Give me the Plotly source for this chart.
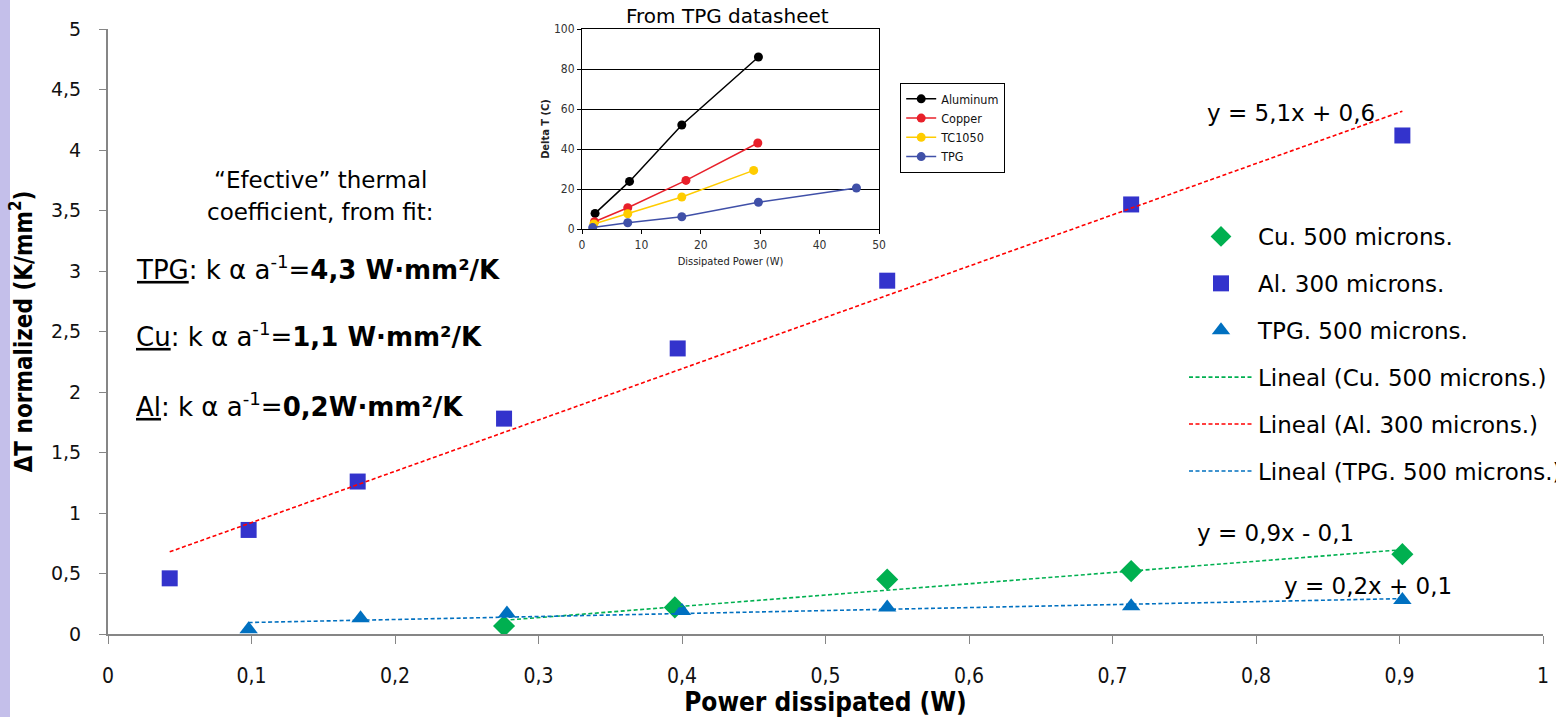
import numpy as np
import plotly.graph_objects as go

# ---------------- main chart data ----------------
cu_x = [0.276, 0.395, 0.543, 0.713, 0.902]
cu_y = [0.066, 0.22, 0.45, 0.52, 0.66]
al_x = [0.043, 0.098, 0.174, 0.276, 0.397, 0.543, 0.713, 0.902]
al_y = [0.46, 0.86, 1.26, 1.78, 2.36, 2.92, 3.55, 4.12]
tpg_x = [0.098, 0.176, 0.278, 0.400, 0.543, 0.713, 0.902]
tpg_y = [0.04, 0.13, 0.17, 0.19, 0.22, 0.23, 0.28]

series_names = ["Cu. 500 microns.", "Al. 300 microns.", "TPG. 500 microns."]

# ---------------- inset (TPG datasheet) data ----------------
ins_al_x = [2.2, 8.0, 16.8, 29.7]
ins_al_y = [7.8, 23.8, 52.0, 86.0]
ins_cu_x = [2.1, 7.7, 17.5, 29.6]
ins_cu_y = [3.6, 10.6, 24.3, 43.0]
ins_tc_x = [2.0, 7.7, 16.8, 28.9]
ins_tc_y = [2.5, 7.6, 16.0, 29.3]
ins_tpg_x = [1.8, 7.7, 16.8, 29.7, 46.2]
ins_tpg_y = [0.7, 3.1, 6.1, 13.4, 20.5]
inset_names = ["Aluminum", "Copper", "TC1050", "TPG"]

C_CU = "#00b050"
C_AL = "#3333cc"
C_TPG = "#0070c0"
C_RED = "#ff0000"

SANS = "DejaVu Sans, Verdana, sans-serif"
COND = "DejaVu Sans Condensed, DejaVu Sans, Tahoma, sans-serif"
NARROW = "Liberation Sans Narrow, DejaVu Sans Condensed, Arial Narrow, sans-serif"

fig = go.Figure()

# markers
fig.add_trace(go.Scatter(x=cu_x, y=cu_y, mode="markers", name=series_names[0],
                         legendgroup="a",
                         marker=dict(symbol="diamond", size=17, color=C_CU)))
fig.add_trace(go.Scatter(x=al_x, y=al_y, mode="markers", name=series_names[1],
                         legendgroup="b",
                         marker=dict(symbol="square", size=16, color=C_AL)))
fig.add_trace(go.Scatter(x=tpg_x, y=tpg_y, mode="markers", name=series_names[2],
                         legendgroup="c",
                         marker=dict(symbol="triangle-up", size=16, color=C_TPG)))


def trend(xs, ys):
    m, b = np.polyfit(xs, ys, 1)
    xx = np.array([min(xs), max(xs)])
    return xx, m * xx + b


for i, (xs, ys, col) in enumerate([(cu_x, cu_y, C_CU), (al_x, al_y, C_RED), (tpg_x, tpg_y, C_TPG)]):
    tx, ty = trend(xs, ys)
    fig.add_trace(go.Scatter(x=tx, y=ty, mode="lines", name="Lineal (" + series_names[i] + ")",
                             legendgroup="d" + str(i),
                             line=dict(color=col, width=1.6, dash="4px,2.5px")))

# inset traces
for xs, ys, col, nm in [(ins_al_x, ins_al_y, "#000000", inset_names[0]),
                        (ins_cu_x, ins_cu_y, "#e8202a", inset_names[1]),
                        (ins_tc_x, ins_tc_y, "#ffcc00", inset_names[2]),
                        (ins_tpg_x, ins_tpg_y, "#4050a8", inset_names[3])]:
    fig.add_trace(go.Scatter(x=xs, y=ys, mode="lines+markers", name=nm,
                             xaxis="x2", yaxis="y2", legend="legend2",
                             line=dict(color=col, width=1.5),
                             marker=dict(size=9, color=col)))

W, H = 1556, 717
L, R, T, B = 108, 1543, 29, 634


def px(xp):
    return (xp - L) / (R - L)


def py(yp):
    return (B - yp) / (B - T)


fig.update_layout(
    width=W, height=H,
    margin=dict(l=L, r=W - R, t=T, b=H - B, autoexpand=False),
    paper_bgcolor="white", plot_bgcolor="white",
    separators=",.",
    font=dict(family=SANS, color="#000000"),
    xaxis=dict(range=[0, 1], dtick=0.1, tick0=0, showgrid=False, zeroline=False,
               automargin=False,
               showline=True, linecolor="#868686", linewidth=2,
               ticks="outside", ticklen=8, tickcolor="#868686", tickwidth=1,
               ticklabelstandoff=14,
               tickfont=dict(family=NARROW, size=21, color="#111"),
               title=dict(text="<b>Power dissipated (W)</b>", standoff=0,
                          font=dict(family=NARROW, size=26, color="#000"))),
    yaxis=dict(range=[0, 5], dtick=0.5, tick0=0, showgrid=False, zeroline=False,
               automargin=False,
               showline=True, linecolor="#868686", linewidth=2,
               ticks="outside", ticklen=7, tickcolor="#868686", tickwidth=1,
               ticklabelstandoff=14,
               tickfont=dict(family=SANS, size=19, color="#111"),
               title=dict(text="<b>ΔT normalized (K/mm<sup>2</sup>)</b>", standoff=12,
                          font=dict(family=NARROW, size=24, color="#000"))),
    xaxis2=dict(domain=[px(582), px(879)], anchor="y2", range=[0, 50], dtick=10,
                automargin=False,
                showgrid=False, zeroline=False, showline=True, mirror=True,
                linecolor="#000", linewidth=1.2, ticks="outside", ticklen=4,
                tickcolor="#000", tickfont=dict(size=12, color="#333", family=COND),
                title=dict(text="Dissipated Power (W)", standoff=6,
                           font=dict(size=11, color="#222", family=COND))),
    yaxis2=dict(domain=[py(229), 1.0], anchor="x2", range=[0, 100], dtick=20,
                automargin=False,
                showgrid=True, gridcolor="#000", gridwidth=1.2, zeroline=False,
                showline=True, mirror=True, linecolor="#000", linewidth=1.2,
                ticks="outside", ticklen=4, tickcolor="#000",
                tickfont=dict(size=12, color="#333", family=COND),
                title=dict(text="<b>Delta T (C)</b>", standoff=2,
                           font=dict(size=11, color="#222", family=COND))),
    showlegend=True,
    legend=dict(x=px(1184), y=py(215), xanchor="left", yanchor="top",
                bgcolor="rgba(0,0,0,0)", borderwidth=0,
                font=dict(family=SANS, size=23, color="#000"),
                tracegroupgap=14, itemwidth=64),
    legend2=dict(x=px(900), y=py(83), xanchor="left", yanchor="top",
                 bgcolor="white", bordercolor="#000", borderwidth=1.2,
                 font=dict(family=COND, size=12.5, color="#111"),
                 tracegroupgap=0, itemwidth=30),
)

shapes = [
    # inset grey plot background
    dict(type="rect", xref="x2 domain", yref="y2 domain", x0=0, x1=1, y0=0, y1=1,
         fillcolor="#c0c0c0", line=dict(width=0), layer="below"),
    # lavender strip at left edge of the slide
    dict(type="rect", xref="paper", yref="paper", x0=px(0), x1=px(10), y0=py(H), y1=py(0),
         fillcolor="#c4bfea", line=dict(width=0), layer="above"),
]
fig.update_layout(shapes=shapes)

ann = []


def add_text(text, xp, yp, size, xanchor="center", family=SANS):
    ann.append(dict(text=text, x=px(xp), y=py(yp), xref="paper", yref="paper",
                    xanchor=xanchor, yanchor="middle", showarrow=False,
                    font=dict(family=family, size=size, color="#000")))


add_text("From TPG datasheet", 727, 16, 20)
add_text("“Efective” thermal", 320, 180, 23)
add_text("coefficient, from fit:", 320, 212, 23)
add_text("<u>TPG</u>: k α a<sup>-1</sup>=<b>4,3 W·mm²/K</b>", 134, 268, 26, "left")
add_text("<u>Cu</u>: k α a<sup>-1</sup>=<b>1,1 W·mm²/K</b>", 134, 335, 26, "left")
add_text("<u>Al</u>: k α a<sup>-1</sup>=<b>0,2W·mm²/K</b>", 134, 405, 26, "left")
add_text("y = 5,1x + 0,6", 1205, 113, 23, "left")
add_text("y = 0,9x - 0,1", 1195, 533, 23, "left")
add_text("y = 0,2x + 0,1", 1282, 586, 23, "left")
fig.update_layout(annotations=ann)

fig.write_html("out.html")
